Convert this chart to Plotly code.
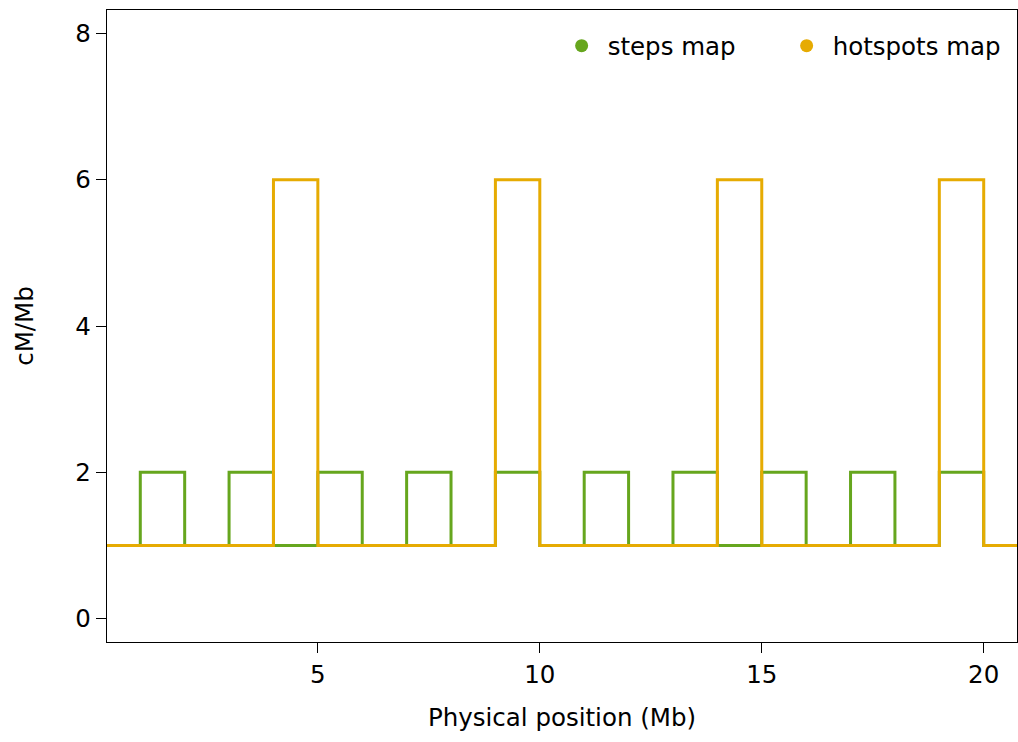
import plotly.graph_objects as go

# Data
steps_x = [0.25, 1, 2, 3, 4, 5, 6, 7, 8, 9, 10, 11, 12, 13, 14, 15, 16, 17, 18, 19, 20, 20.75]
steps_y = [1, 2, 1, 2, 1, 2, 1, 2, 1, 2, 1, 2, 1, 2, 1, 2, 1, 2, 1, 2, 1, 1]
hot_x = [0.25, 4, 5, 9, 10, 14, 15, 19, 20, 20.75]
hot_y = [1, 6, 1, 6, 1, 6, 1, 6, 1, 1]
series_names = ["steps map", "hotspots map"]
colors = ["#66A61E", "#E6AB02"]
x_ticks = [5, 10, 15, 20]
y_ticks = [0, 2, 4, 6, 8]

FONT = "DejaVu Sans"
FS = 24.5

fig = go.Figure()
fig.add_trace(go.Scatter(x=steps_x, y=steps_y, mode="lines", line_shape="hv",
                         line=dict(color=colors[0], width=3), showlegend=False))
fig.add_trace(go.Scatter(x=hot_x, y=hot_y, mode="lines", line_shape="hv",
                         line=dict(color=colors[1], width=3), showlegend=False))
for name, c in zip(series_names, colors):
    fig.add_trace(go.Scatter(x=[None], y=[None], mode="markers", name=name,
                             marker=dict(color=c, size=13, symbol="circle")))

fig.update_layout(
    width=1018, height=742,
    margin=dict(l=107, r=1, t=10, b=100),
    paper_bgcolor="white", plot_bgcolor="white",
    font=dict(family=FONT, size=FS, color="black"),
    legend=dict(orientation="h", x=0.493, xanchor="left", y=0.979, yanchor="top",
                bgcolor="rgba(255,255,255,0)", font=dict(size=FS, family=FONT, color="black"),
                itemwidth=42, entrywidth=168, tracegroupgap=0),
    xaxis=dict(range=[0.25, 20.75], tickmode="array", tickvals=x_ticks,
               ticks="outside", ticklen=10, tickwidth=1.3, tickcolor="black",
               showline=True, linecolor="black", linewidth=1.3, mirror=True,
               showgrid=False, zeroline=False,
               tickfont=dict(size=FS, family=FONT, color="black"),
               title=dict(text="Physical position (Mb)", standoff=21,
                          font=dict(size=FS, family=FONT, color="black"))),
    yaxis=dict(range=[-0.32, 8.32], tickmode="array", tickvals=y_ticks,
               ticks="outside", ticklen=10, tickwidth=1.3, tickcolor="black",
               showline=True, linecolor="black", linewidth=1.3, mirror=True,
               showgrid=False, zeroline=False,
               tickfont=dict(size=FS, family=FONT, color="black"),
               title=dict(text="cM/Mb", standoff=34,
                          font=dict(size=FS, family=FONT, color="black"))),
)

fig.write_html(
    "out.html",
    config={"displayModeBar": False},
    post_script="document.body.style.margin='0';document.body.style.overflow='hidden';",
)
